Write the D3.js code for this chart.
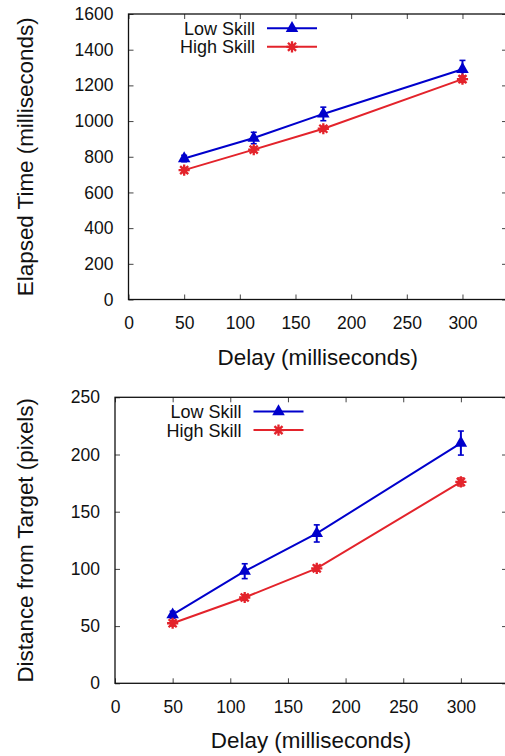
<!DOCTYPE html>
<html>
<head>
<meta charset="utf-8">
<script src="https://cdn.jsdelivr.net/npm/d3@7"></script>
<style>
  body { margin: 0; background: #fff; }
  svg { display: block; font-family: "Liberation Sans", Arial, sans-serif; }
</style>
</head>
<body>
<svg id="chart" width="505" height="756"></svg>
<script>
// delays shared by both panels
var delays = [50, 112.5, 175, 300];
var xTicks = [0, 50, 100, 150, 200, 250, 300];

// panel 1: elapsed time
var timeLow = [790, 905, 1040, 1290];
var timeLowErr = [18, 32, 38, 50];
var timeHigh = [725, 840, 957, 1235];
var timeHighErr = [14, 14, 14, 18];
var timeTicks = [0, 200, 400, 600, 800, 1000, 1200, 1400, 1600];

// panel 2: distance from target
var distLow = [60, 98, 131, 210];
var distLowErr = [3, 6.5, 7.5, 10.5];
var distHigh = [52.5, 75, 100.5, 176];
var distHighErr = [2.5, 2.5, 2.5, 3.5];
var distTicks = [0, 50, 100, 150, 200, 250];

var seriesNames = ["Low Skill", "High Skill"];

var BLUE = "#0000cc", RED = "#e3232b";

var svg = d3.select("#chart");

// gnuplot style asterisk: + and x together
function starPath(r) {
  var p = d3.path(), d = r * 0.72;
  p.moveTo(-r, 0); p.lineTo(r, 0);
  p.moveTo(0, -r); p.lineTo(0, r);
  p.moveTo(-d, -d); p.lineTo(d, d);
  p.moveTo(-d, d); p.lineTo(d, -d);
  return p.toString();
}
var triangle = d3.symbol().type(d3.symbolTriangle).size(68);

function drawMarker(g, kind, x, y) {
  if (kind === "tri") {
    g.append("path").attr("d", triangle())
      .attr("transform", "translate(" + x + "," + y + ")")
      .attr("fill", BLUE);
  } else {
    g.append("path").attr("d", starPath(5.6))
      .attr("transform", "translate(" + x + "," + y + ")")
      .attr("fill", "none").attr("stroke", RED).attr("stroke-width", 2.3);
  }
}

function styleAxis(sel) {
  sel.select(".domain").remove();
  sel.selectAll(".tick line").attr("stroke", "#444").attr("stroke-width", 1);
  sel.selectAll(".tick text").attr("font-size", 17.5).attr("fill", "#111");
}

function drawPanel(opt) {
  var left = opt.left, top = opt.top, bottom = opt.bottom, right = 507;
  var x = d3.scaleLinear().domain([0, 340]).range([left, right]);
  var y = d3.scaleLinear().domain(opt.yDomain).range([bottom, top]);
  var g = svg.append("g");

  // inward ticks on all four sides
  var tl = 5;
  g.append("g").attr("transform", "translate(0," + bottom + ")")
    .call(d3.axisBottom(x).tickValues(xTicks).tickSize(-tl).tickPadding(17).tickFormat(d3.format("d")))
    .call(styleAxis);
  g.append("g").attr("transform", "translate(0," + top + ")")
    .call(d3.axisTop(x).tickValues(xTicks).tickSize(-tl).tickFormat(""))
    .call(styleAxis);
  g.append("g").attr("transform", "translate(" + left + ",0)")
    .call(d3.axisLeft(y).tickValues(opt.yTicks).tickSize(-tl).tickPadding(15).tickFormat(d3.format("d")))
    .call(styleAxis);
  g.append("g").attr("transform", "translate(" + right + ",0)")
    .call(d3.axisRight(y).tickValues(opt.yTicks).tickSize(-tl).tickFormat(""))
    .call(styleAxis);

  g.append("rect").attr("x", left).attr("y", top)
    .attr("width", right - left).attr("height", bottom - top)
    .attr("fill", "none").attr("stroke", "#111").attr("stroke-width", 1.3);

  // axis titles
  g.append("text").attr("x", (left + right) / 2).attr("y", bottom + 65)
    .attr("text-anchor", "middle").attr("font-size", 22.4).attr("fill", "#111")
    .text("Delay (milliseconds)");
  g.append("text").attr("transform", "translate(33," + (top + bottom) / 2 + ") rotate(-90)")
    .attr("text-anchor", "middle").attr("font-size", 22.4).attr("fill", "#111")
    .text(opt.yTitle);

  var line = d3.line().x(function(d) { return x(d[0]); }).y(function(d) { return y(d[1]); });

  opt.series.forEach(function(s) {
    var pts = delays.map(function(dl, i) { return [dl, s.values[i], s.err[i]]; });
    g.append("path").datum(pts).attr("d", line)
      .attr("fill", "none").attr("stroke", s.color).attr("stroke-width", 2);
    pts.forEach(function(p) {
      var cx = x(p[0]), y1 = y(p[1] + p[2]), y2 = y(p[1] - p[2]);
      g.append("line").attr("x1", cx).attr("x2", cx).attr("y1", y1).attr("y2", y2)
        .attr("stroke", s.color).attr("stroke-width", 2);
      [y1, y2].forEach(function(yy) {
        g.append("line").attr("x1", cx - 3).attr("x2", cx + 3).attr("y1", yy).attr("y2", yy)
          .attr("stroke", s.color).attr("stroke-width", 1.6);
      });
      drawMarker(g, s.marker, cx, y(p[1]));
    });
  });

  // legend
  opt.series.forEach(function(s, i) {
    var ly = top + 14.3 + i * 18.5;
    g.append("text").attr("x", left + 126.5).attr("y", ly + 6.5)
      .attr("text-anchor", "end").attr("font-size", 18).attr("fill", "#111")
      .text(s.name);
    g.append("line").attr("x1", left + 138.5).attr("x2", left + 188.5)
      .attr("y1", ly).attr("y2", ly).attr("stroke", s.color).attr("stroke-width", 2);
    drawMarker(g, s.marker, left + 163.5, ly);
  });
}

drawPanel({
  left: 128.5, top: 14, bottom: 299.5,
  yDomain: [0, 1600], yTicks: timeTicks,
  yTitle: "Elapsed Time (milliseconds)",
  series: [
    { name: seriesNames[0], values: timeLow, err: timeLowErr, color: BLUE, marker: "tri" },
    { name: seriesNames[1], values: timeHigh, err: timeHighErr, color: RED, marker: "star" }
  ]
});

drawPanel({
  left: 115, top: 397.3, bottom: 683.3,
  yDomain: [0, 250], yTicks: distTicks,
  yTitle: "Distance from Target (pixels)",
  series: [
    { name: seriesNames[0], values: distLow, err: distLowErr, color: BLUE, marker: "tri" },
    { name: seriesNames[1], values: distHigh, err: distHighErr, color: RED, marker: "star" }
  ]
});
</script>
</body>
</html>
